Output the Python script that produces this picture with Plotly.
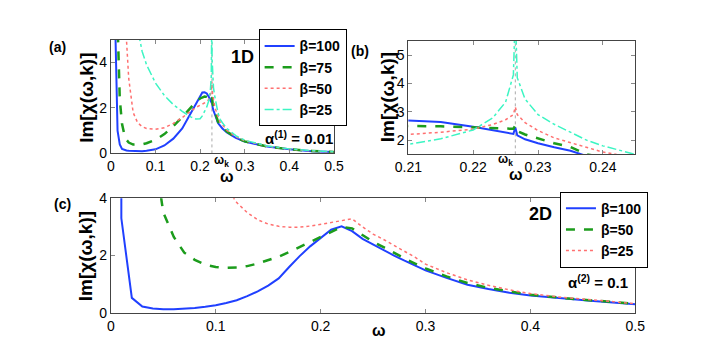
import plotly.graph_objs as go

# 1D chain, frequencies and Im[chi] for each inverse temperature
omega_1d = [0.005, 0.01, 0.015, 0.02, 0.025, 0.03, 0.035, 0.04,
            0.05, 0.06, 0.07, 0.08,
            0.1, 0.12, 0.14, 0.16, 0.18, 0.19, 0.2, 0.205,
            0.21, 0.215, 0.22, 0.223, 0.225, 0.2262, 0.2265, 0.2268,
            0.228, 0.23, 0.2325, 0.235, 0.2375, 0.24, 0.2425, 0.245,
            0.25, 0.26, 0.28, 0.3, 0.35, 0.4, 0.45, 0.5]
beta100_1d = [14, 5.5, 1.0, 0.4, 0.2, 0.15, 0.13, 0.12,
              0.11, 0.1, 0.1, 0.12,
              0.18, 0.35, 0.65, 1.1, 1.8, 2.2, 2.55, 2.68,
              2.69, 2.64, 2.47, 2.34, 2.27, 2.22, 2.45, 2.17,
              2.03, 1.89, 1.75, 1.63, 1.44, 1.35, 1.28, 1.21,
              1.1, 0.92, 0.68, 0.52, 0.3, 0.18, 0.1, 0.06]
beta75_1d = [14, 9, 5.8, 2.4, 1.3, 0.85, 0.6, 0.48,
             0.39, 0.38, 0.4, 0.45,
             0.6, 0.85, 1.2, 1.6, 2.05, 2.25, 2.42, 2.47,
             2.5, 2.49, 2.45, 2.41, 2.39, 2.4, 2.52, 2.32,
             2.2, 2.06, 1.89, 1.76, 1.5, 1.4, 1.33, 1.27,
             1.15, 0.96, 0.7, 0.53, 0.31, 0.18, 0.11, 0.06]
beta50_1d = [30, 20, 14, 10, 8, 6.2, 5.0, 3.3,
             1.8, 1.35, 1.18, 1.1,
             1.06, 1.13, 1.32, 1.58, 1.88, 2.02, 2.12, 2.17,
             2.2, 2.28, 2.39, 2.55, 2.72, 2.9, 3.17, 2.9,
             2.62, 2.34, 2.08, 1.92, 1.75, 1.58, 1.48, 1.39,
             1.25, 1.02, 0.74, 0.56, 0.32, 0.19, 0.11, 0.06]
beta25_1d = [60, 40, 30, 25, 20, 17, 14, 12,
             9, 5.5, 4.5, 3.9,
             3.1, 2.55, 2.15, 1.85, 1.6, 1.52, 1.53, 1.65,
             1.85, 2.05, 2.36, 2.78, 3.34, 4.3, 6.5, 4.2,
             3.45, 2.9, 2.56, 2.28, 2.0, 1.8, 1.65, 1.5,
             1.35, 1.1, 0.78, 0.58, 0.33, 0.2, 0.12, 0.07]

# 2D lattice
omega_2d = [0.005, 0.01, 0.02, 0.03, 0.04, 0.05, 0.06, 0.07, 0.08, 0.09,
            0.1, 0.11, 0.12, 0.13, 0.14, 0.15, 0.16, 0.17, 0.18, 0.19,
            0.2, 0.21, 0.22, 0.23, 0.24, 0.25, 0.26, 0.27, 0.28, 0.29,
            0.3, 0.32, 0.34, 0.36, 0.38, 0.4, 0.43, 0.46, 0.5]
beta100_2d = [400, 3.3, 0.52, 0.22, 0.15, 0.12, 0.12, 0.14, 0.17, 0.21,
              0.26, 0.34, 0.44, 0.58, 0.75, 0.95, 1.2, 1.6, 1.98, 2.32,
              2.62, 2.9, 3.02, 2.85, 2.58, 2.38, 2.2, 2.0, 1.82, 1.64,
              1.48, 1.22, 0.98, 0.83, 0.7, 0.6, 0.5, 0.41, 0.3]
beta50_2d = [400, 200, 40, 15, 6, 3.5, 2.65, 2.1, 1.85, 1.68,
             1.6, 1.57, 1.58, 1.63, 1.72, 1.83, 1.96, 2.12, 2.3, 2.47,
             2.64, 2.83, 3.0, 2.95, 2.7, 2.48, 2.29, 2.09, 1.9, 1.72,
             1.55, 1.27, 1.04, 0.87, 0.74, 0.63, 0.52, 0.42, 0.31]
beta25_2d = [400, 200, 80, 40, 25, 17, 12, 9.5, 7.5, 6.2,
             5.2, 4.4, 3.85, 3.5, 3.25, 3.1, 3.02, 2.99, 2.99, 3.03,
             3.09, 3.15, 3.23, 3.28, 3.0, 2.75, 2.56, 2.36, 2.14, 1.94,
             1.7, 1.4, 1.15, 0.96, 0.8, 0.67, 0.54, 0.44, 0.32]

omega_k = 0.2265

x_ticks = [0, 0.1, 0.2, 0.3, 0.4, 0.5]
x_ticks_zoom = [0.21, 0.22, 0.23, 0.24]

blue = '#2040ff'
green = '#1c9c1c'
red = '#ff7070'
cyan = '#3cf5c3'

styles_1d = [('β=100', beta100_1d, blue, 'solid', 2),
             ('β=75', beta75_1d, green, 'dash', 2.5),
             ('β=50', beta50_1d, red, 'dot', 1.5),
             ('β=25', beta25_1d, cyan, 'dashdot', 1.5)]
styles_2d = [('β=100', beta100_2d, blue, 'solid', 2),
             ('β=50', beta50_2d, green, 'dash', 2.5),
             ('β=25', beta25_2d, red, 'dot', 1.5)]

data = []
for name, vals, col, dash, w in styles_1d:
    data.append(go.Scatter(x=omega_1d, y=vals, name=name, mode='lines',
                           line=dict(color=col, dash=dash, width=w),
                           xaxis='x', yaxis='y', legend='legend'))
for name, vals, col, dash, w in styles_1d:
    data.append(go.Scatter(x=omega_1d, y=vals, name=name, mode='lines',
                           line=dict(color=col, dash=dash, width=w),
                           xaxis='x2', yaxis='y2', showlegend=False))
for name, vals, col, dash, w in styles_2d:
    data.append(go.Scatter(x=omega_2d, y=vals, name=name, mode='lines',
                           line=dict(color=col, dash=dash, width=w),
                           xaxis='x3', yaxis='y3', legend='legend2'))

W, H = 702, 350


def px_x(p):
    return p / W


def px_y(p):
    return 1 - p / H


ax = dict(showline=True, linecolor='#444', linewidth=1, mirror='ticks',
          ticks='inside', ticklen=4, tickcolor='#888', showgrid=False,
          zeroline=False, tickfont=dict(size=14, color='black'))

bold = dict(weight='bold', color='black')


def label(text, x, y, size, xanchor='center', angle=0, xref='paper'):
    return dict(text=text, x=x, y=y, xref=xref, yref='paper', showarrow=False,
                xanchor=xanchor, yanchor='middle', textangle=angle,
                font=dict(size=size, **bold))


ytitle = 'Im[χ(ω,k)]'
annotations = [
    label('(a)', px_x(37), px_y(32), 14),
    label('(b)', px_x(350), px_y(37), 14),
    label('(c)', px_x(42), px_y(197), 14),
    label('1D', px_x(228), px_y(43), 18),
    label('2D', px_x(537), px_y(208), 18),
    label('α<sup>(1)</sup> = 0.01', px_x(324), px_y(127), 15, xanchor='right'),
    label('α<sup>(2)</sup> = 0.1', px_x(630), px_y(278), 15, xanchor='right'),
    label('ω', px_x(212), px_y(168), 16),
    label('ω', px_x(512), px_y(166), 16),
    label('ω', px_x(370), px_y(330), 16),
    label(ytitle, px_x(66), px_y(86), 19, angle=-90),
    label(ytitle, px_x(378), px_y(85), 19, angle=-90),
    label(ytitle, px_x(66), px_y(252), 19, angle=-90),
    label('ω<sub>k</sub>', omega_k, px_y(152), 12, xanchor='left', xref='x'),
    label('ω<sub>k</sub>', omega_k, px_y(151), 12, xanchor='right', xref='x2'),
]

shapes = [dict(type='line', xref=xr, yref=yr + ' domain', x0=omega_k, x1=omega_k,
               y0=0, y1=1, line=dict(color='#aaaaaa', width=1, dash='dot'), layer='below')
          for xr, yr in [('x', 'y'), ('x2', 'y2')]]

leg = dict(xanchor='left', yanchor='top', bordercolor='black', borderwidth=1,
           bgcolor='white', font=dict(size=14, **bold), tracegroupgap=0)

layout = go.Layout(
    width=W, height=H, margin=dict(l=0, r=0, t=0, b=0),
    paper_bgcolor='white', plot_bgcolor='white',
    font=dict(family='Liberation Sans', color='black'),
    xaxis=dict(ax, domain=[px_x(92), px_x(323)], range=[0, 0.5], tickvals=x_ticks, anchor='y'),
    yaxis=dict(ax, domain=[px_y(144), px_y(25)], range=[0, 5], tickvals=[0, 2, 4], anchor='x'),
    xaxis2=dict(ax, domain=[px_x(400), px_x(635)], range=[0.21, 0.245], tickvals=x_ticks_zoom, anchor='y2'),
    yaxis2=dict(ax, domain=[px_y(145), px_y(26)], range=[1.5, 5.5], tickvals=[2, 3, 4, 5], anchor='x2'),
    xaxis3=dict(ax, domain=[px_x(92), px_x(635)], range=[0, 0.5], tickvals=x_ticks, anchor='y3'),
    yaxis3=dict(ax, domain=[px_y(311), px_y(191)], range=[0, 4], tickvals=[0, 2, 4], anchor='x3'),
    legend=dict(leg, x=px_x(245), y=px_y(14)),
    legend2=dict(leg, x=px_x(557), y=px_y(184)),
    annotations=annotations,
    shapes=shapes,
)

fig = go.Figure(data=data, layout=layout)
fig.write_html("out.html")
